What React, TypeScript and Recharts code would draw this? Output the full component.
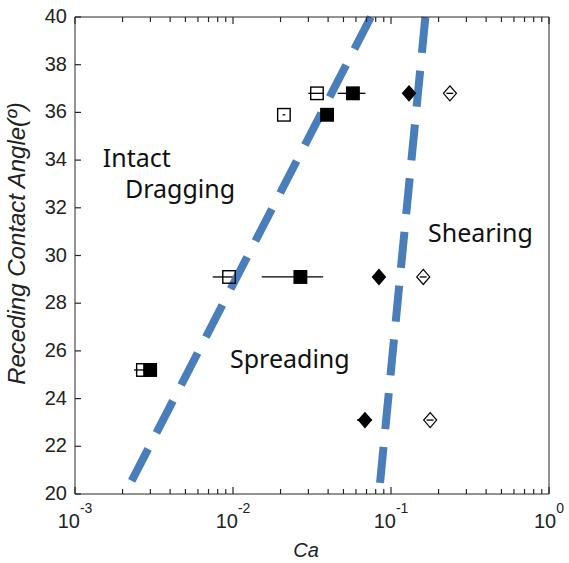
import React from "react";
import {
  ScatterChart,
  Scatter,
  XAxis,
  YAxis,
  ErrorBar,
  ReferenceLine,
  ReferenceDot,
} from "recharts";

// capillary number ticks (log axis) and angle ticks
const caTicks = [
  0.001, 0.002, 0.003, 0.004, 0.005, 0.006, 0.007, 0.008, 0.009,
  0.01, 0.02, 0.03, 0.04, 0.05, 0.06, 0.07, 0.08, 0.09,
  0.1, 0.2, 0.3, 0.4, 0.5, 0.6, 0.7, 0.8, 0.9, 1,
];
const angleTicks = [20, 22, 24, 26, 28, 30, 32, 34, 36, 38, 40];

// squares share these receding angles
const sqAngle = [36.8, 35.9, 29.1, 25.2];
const openSqCa = [0.034, 0.021, 0.00944, 0.00269];
const openSqErr = [[0.0040, 0.0032], [0.0004, 0.0004], [0.0020, 0.0016], [0.00033, 0.0003]];
const filledSqCa = [0.0574, 0.0394, 0.0267, 0.00299];
const filledSqErr = [[0.0115, 0.0115], [0.002, 0.002], [0.0115, 0.0105], [0.0003, 0.0003]];

// diamonds
const diaAngle = [36.8, 29.1, 23.1];
const filledDiaCa = [0.13, 0.0839, 0.0684];
const filledDiaErr = [[0.01, 0.01], [0.005, 0.005], [0.0075, 0.0075]];
const openDiaCa = [0.236, 0.16, 0.177];
const openDiaErr = [[0.012, 0.012], [0.008, 0.008], [0.009, 0.009]];

// regime boundaries (top point first)
const leftBoundary = [{ x: 0.0746, y: 40 }, { x: 0.00207, y: 20 }];
const rightBoundary = [{ x: 0.165, y: 40 }, { x: 0.0839, y: 20 }];

const regions = [
  { text: "Intact", x: 0.0015, y: 33.71 },
  { text: "Dragging", x: 0.00207, y: 32.41 },
  { text: "Shearing", x: 0.1714, y: 30.57 },
  { text: "Spreading", x: 0.00957, y: 25.28 },
];

const BLUE = "#4a7ebb";
const AXIS = "#262626";
const NUM_FONT = "'Liberation Sans', Arial, sans-serif";

const toPoints = (ca: number[], ang: number[], err: number[][]) =>
  ca.map((x, i) => ({ x, y: ang[i], err: err[i] }));

function Square({ cx, cy, filled }: any) {
  const s = 12.5;
  return (
    <rect
      x={cx - s / 2}
      y={cy - s / 2}
      width={s}
      height={s}
      fill={filled ? "#000" : "none"}
      stroke="#000"
      strokeWidth={1.4}
    />
  );
}

function Diamond({ cx, cy, filled }: any) {
  const w = 6.5;
  const h = 7.5;
  return (
    <polygon
      points={`${cx},${cy - h} ${cx + w},${cy} ${cx},${cy + h} ${cx - w},${cy}`}
      fill={filled ? "#000" : "none"}
      stroke="#000"
      strokeWidth={1.2}
    />
  );
}

// axes use tickSize 0 / tickMargin 0, so x/y handed to ticks sit on the axis line
function CaTick({ x, y, payload, top }: any) {
  const e = Math.log10(payload.value);
  const major = Math.abs(e - Math.round(e)) < 1e-6;
  const len = major ? 7 : 5;
  return (
    <g>
      <line x1={x} x2={x} y1={y} y2={top ? y + len : y - len} stroke={AXIS} strokeWidth={1.2} />
      {major && !top && (
        <text x={x} y={y + 34} textAnchor="middle" fontSize={20} fontFamily={NUM_FONT} fill="#222">
          10
          <tspan dy={-15} fontSize={14}>
            {Math.round(e)}
          </tspan>
        </text>
      )}
    </g>
  );
}

function AngleTick({ x, y, payload, right }: any) {
  return (
    <g>
      <line x1={x} x2={right ? x - 6 : x + 6} y1={y} y2={y} stroke={AXIS} strokeWidth={1.2} />
      {!right && (
        <text x={x - 8} y={y} dy={6} textAnchor="end" fontSize={20} fontFamily={NUM_FONT} fill="#222">
          {payload.value}
        </text>
      )}
    </g>
  );
}

export default function App() {
  return (
    <div style={{ position: "absolute", left: 0, top: 0, background: "#fff" }}>
      <ScatterChart width={569} height={563} margin={{ top: 12, right: 15, bottom: 19, left: 15 }}>
        <XAxis
          type="number"
          dataKey="x"
          scale="log"
          domain={[0.001, 1]}
          allowDataOverflow
          ticks={caTicks}
          interval={0}
          height={50}
          tickSize={0}
          tickMargin={0}
          tickLine={false}
          axisLine={{ stroke: AXIS }}
          tick={<CaTick />}
          label={{
            content: (p: any) => (
              <text
                x={p.viewBox.x + p.viewBox.width / 2 - 6}
                y={p.viewBox.y + 63}
                textAnchor="middle"
                fontSize={20}
                fontStyle="italic"
                fontFamily={NUM_FONT}
                fill="#222"
              >
                Ca
              </text>
            ),
          }}
        />
        <XAxis
          xAxisId="top"
          orientation="top"
          type="number"
          dataKey="x"
          scale="log"
          domain={[0.001, 1]}
          allowDataOverflow
          ticks={caTicks}
          interval={0}
          height={5}
          tickSize={0}
          tickMargin={0}
          tickLine={false}
          axisLine={{ stroke: AXIS }}
          tick={<CaTick top />}
        />
        <YAxis
          type="number"
          dataKey="y"
          domain={[20, 40]}
          ticks={angleTicks}
          interval={0}
          width={60}
          tickSize={0}
          tickMargin={0}
          tickLine={false}
          axisLine={{ stroke: AXIS }}
          tick={<AngleTick />}
          label={{
            content: (p: any) => {
              const cx = p.viewBox.x + 10;
              const cy = p.viewBox.y + p.viewBox.height / 2 - 12;
              return (
                <text
                  transform={`translate(${cx},${cy}) rotate(-90)`}
                  textAnchor="middle"
                  fontSize={24}
                  fontStyle="italic"
                  fontFamily={NUM_FONT}
                  fill="#222"
                >
                  Receding Contact Angle(º)
                </text>
              );
            },
          }}
        />
        <YAxis
          yAxisId="right"
          orientation="right"
          type="number"
          domain={[20, 40]}
          ticks={angleTicks}
          interval={0}
          width={5}
          tickSize={0}
          tickMargin={0}
          tickLine={false}
          axisLine={{ stroke: AXIS }}
          tick={<AngleTick right />}
        />

        <Scatter data={toPoints(openSqCa, sqAngle, openSqErr)} shape={(p: any) => <Square {...p} />} isAnimationActive={false}>
          <ErrorBar dataKey="err" direction="x" width={0} stroke="#000" strokeWidth={1.3} />
        </Scatter>
        <Scatter data={toPoints(filledSqCa, sqAngle, filledSqErr)} shape={(p: any) => <Square {...p} filled />} isAnimationActive={false}>
          <ErrorBar dataKey="err" direction="x" width={0} stroke="#000" strokeWidth={1.3} />
        </Scatter>
        <Scatter data={toPoints(filledDiaCa, diaAngle, filledDiaErr)} shape={(p: any) => <Diamond {...p} filled />} isAnimationActive={false}>
          <ErrorBar dataKey="err" direction="x" width={0} stroke="#000" strokeWidth={1.3} />
        </Scatter>
        <Scatter data={toPoints(openDiaCa, diaAngle, openDiaErr)} shape={(p: any) => <Diamond {...p} />} isAnimationActive={false}>
          <ErrorBar dataKey="err" direction="x" width={0} stroke="#000" strokeWidth={1.3} />
        </Scatter>

        <ReferenceLine segment={leftBoundary} stroke={BLUE} strokeWidth={8} strokeDasharray="36 18" />
        <ReferenceLine segment={rightBoundary} stroke={BLUE} strokeWidth={8} strokeDasharray="36 18" />

        {regions.map((r) => (
          <ReferenceDot
            key={r.text}
            x={r.x}
            y={r.y}
            r={0}
            shape={(p: any) => (
              <text x={p.cx} y={p.cy} fontSize={25} fontFamily="'Noto Sans', sans-serif" fill="#111">
                {r.text}
              </text>
            )}
          />
        ))}
      </ScatterChart>
    </div>
  );
}
